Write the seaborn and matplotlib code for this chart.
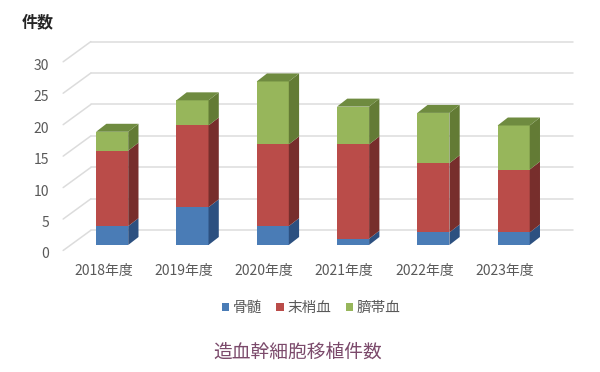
import matplotlib
matplotlib.use("Agg")
import matplotlib.pyplot as plt
from matplotlib.transforms import ScaledTranslation
import numpy as np
import seaborn as sns

years = ["2018年度", "2019年度", "2020年度", "2021年度", "2022年度", "2023年度"]
names = ["骨髄", "末梢血", "臍帯血"]
marrow = [3, 6, 3, 1, 2, 2]
blood = [12, 13, 13, 15, 11, 10]
cord = [3, 4, 10, 6, 8, 7]
yticks = [0, 5, 10, 15, 20, 25, 30]

front = ["#4a7cb6", "#ba4c49", "#97b65b"]
side = ["#2c5080", "#772e2c", "#637b35"]
top_color = "#6f8b40"

sns.set_theme(style="white")
plt.rcParams["font.family"] = ["Noto Sans CJK JP", "DejaVu Sans"]

W, H = 600, 372
BAR_W = 0.4
DEPTH_X, DEPTH_Y = 0.128, 1.27      # depth of the bars, data units
WALL_X, WALL_Y = -0.265, 2.34       # back wall
FLOOR_X, FLOOR_Y = -0.61, -0.87     # front edge of the floor
GRID_END = 5.74

fig = plt.figure(figsize=(W / 100, H / 100), dpi=100)
# axes reach down to the floor edge so the 0 tick stays in view
ax = fig.add_axes([72 / W, (H - 250.47) / H, 481.8 / W, 194.17 / H])

for v in yticks:
    ax.plot([FLOOR_X, WALL_X], [v + FLOOR_Y, v + WALL_Y], color="#dcdcdc", lw=1.1,
            clip_on=False, zorder=1)
    ax.plot([WALL_X, GRID_END], [v + WALL_Y, v + WALL_Y], color="#dcdcdc", lw=1.1,
            clip_on=False, zorder=1)

bottom = np.zeros(len(years))
for name, vals, c_front, c_side in zip(names, [marrow, blood, cord], front, side):
    sns.barplot(x=years, y=vals, bottom=bottom, color=c_front, saturation=1, width=BAR_W,
                errorbar=None, label=name, ax=ax, zorder=3, legend=False, linewidth=0)
    upper = bottom + np.array(vals)
    for i in range(len(years)):
        r = i + BAR_W / 2
        ax.fill([r, r + DEPTH_X, r + DEPTH_X, r],
                [bottom[i], bottom[i] + DEPTH_Y, upper[i] + DEPTH_Y, upper[i]],
                color=c_side, lw=0, clip_on=False, zorder=3)
    bottom = upper

for i in range(len(years)):
    l, r = i - BAR_W / 2, i + BAR_W / 2
    ax.fill([l, r, r + DEPTH_X, l + DEPTH_X],
            [bottom[i], bottom[i], bottom[i] + DEPTH_Y, bottom[i] + DEPTH_Y],
            color=top_color, lw=0, clip_on=False, zorder=3)

sns.despine(ax=ax, left=True, bottom=True)
ax.set_xlabel("")
ax.set_ylabel("")

# labels sit on the front plane, not under the bars
ax.set_xticks(np.arange(len(years)) - 0.11, labels=years)
ax.set_yticks([v + FLOOR_Y for v in yticks], labels=[str(v) for v in yticks])
ax.set_xlim(-0.5, 5.5)
ax.set_ylim(FLOOR_Y, 30)
ax.tick_params(axis="x", length=0, pad=9.5, labelsize=10, labelcolor="#595959")
ax.tick_params(axis="y", length=0, pad=16.5, labelsize=10, labelcolor="#595959")
nudge = ScaledTranslation(0, -2.5 / 100, fig.dpi_scale_trans)
for label in ax.get_yticklabels():
    label.set_transform(label.get_transform() + nudge)

fig.legend(loc="center", bbox_to_anchor=(311 / W, 1 - 308 / H), ncol=3, frameon=False,
           fontsize=10.5, labelcolor="#595959", handlelength=0.5, handleheight=0.5,
           handletextpad=0.25, columnspacing=1.0, borderpad=0)

fig.text(22 / W, 1 - 22 / H, "件数", fontsize=11.5, fontweight="bold", color="#262626",
         ha="left", va="center")
fig.text(298 / W, 1 - 352 / H, "造血幹細胞移植件数", fontsize=13.5, color="#7b4a6b",
         ha="center", va="center")

fig.savefig("out.png", dpi=100)
